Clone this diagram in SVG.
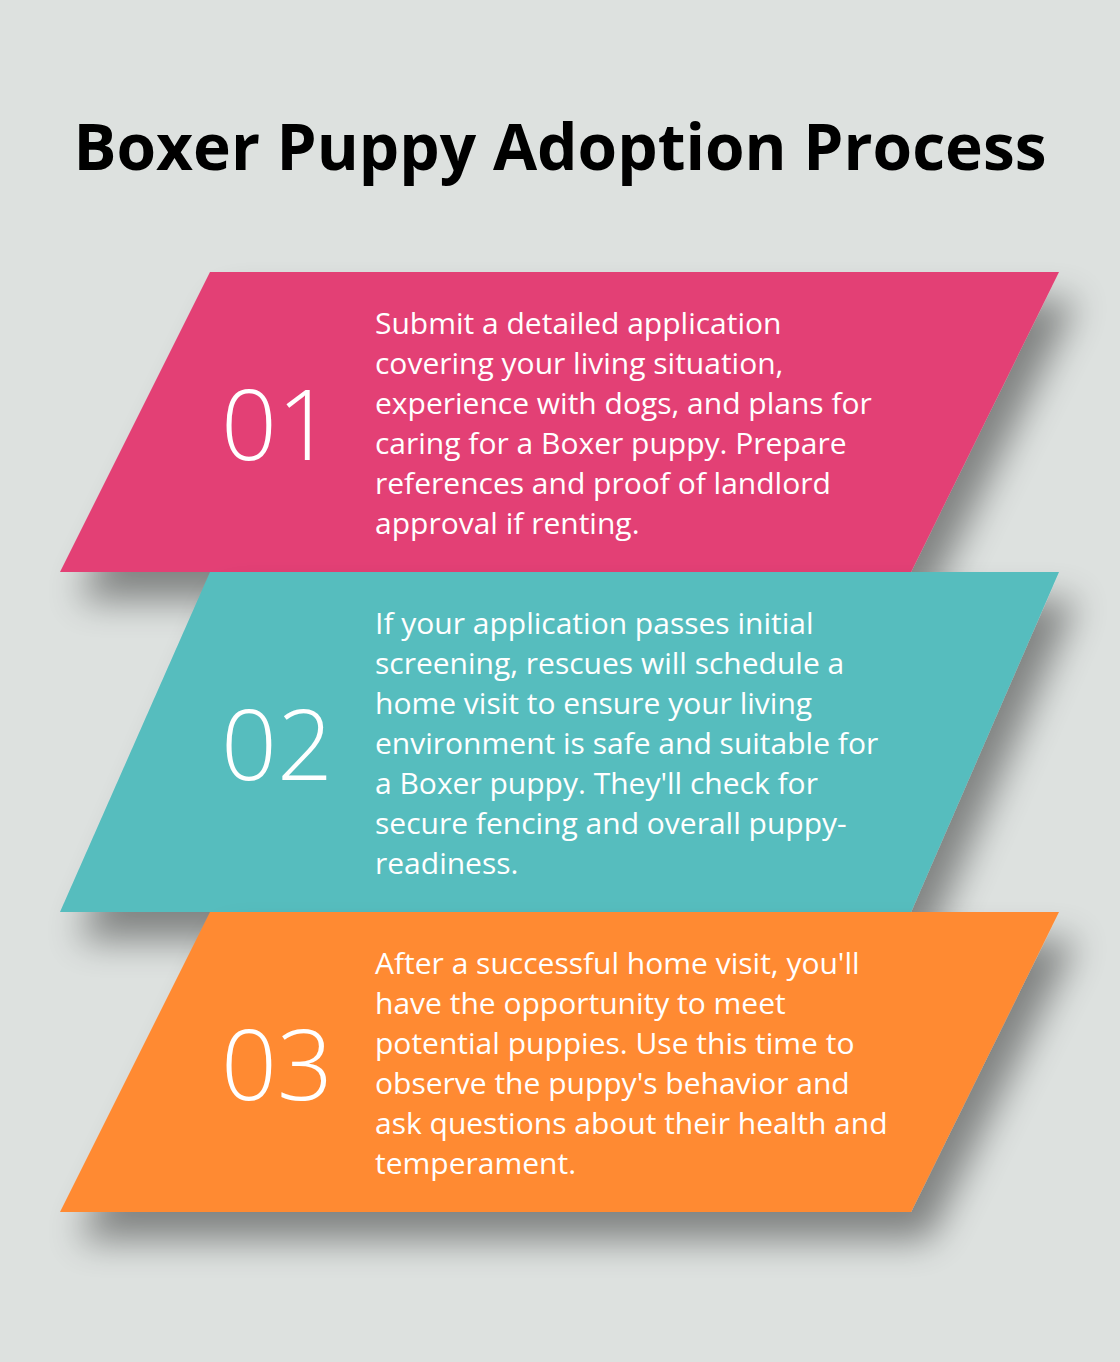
<svg xmlns="http://www.w3.org/2000/svg" width="1120" height="1362" viewBox="0 0 1120 1362">
<defs>
<filter id="sh" x="-10%" y="-20%" width="130%" height="170%">
<feGaussianBlur in="SourceAlpha" stdDeviation="18"/>
<feOffset dx="18" dy="28" result="b"/>
<feComponentTransfer><feFuncA type="linear" slope="0.42"/></feComponentTransfer>
<feMerge><feMergeNode/><feMergeNode in="SourceGraphic"/></feMerge>
</filter>
</defs>
<style>
.title{font-family:"Open Sans","Liberation Sans",sans-serif;font-weight:700;font-size:64px;fill:#000}
.num{font-family:"Open Sans","Liberation Sans",sans-serif;font-weight:300;font-size:98px;fill:#fff}
.body{font-family:"Open Sans","Liberation Sans",sans-serif;font-size:30px;fill:#fff}
</style>
<rect width="1120" height="1362" fill="#DDE1DF"/>
<text class="title" x="560" y="170" text-anchor="middle">Boxer Puppy Adoption Process</text>
<g id="step1">
<polygon points="210,272 1059,272 911,572 60,572" fill="#E34174" filter="url(#sh)"/>
<text class="num" x="221" y="460">01</text>
<text class="body" x="375"><tspan x="375" y="334">Submit a detailed application</tspan><tspan x="375" y="374">covering your living situation,</tspan><tspan x="375" y="414">experience with dogs, and plans for</tspan><tspan x="375" y="454">caring for a Boxer puppy. Prepare</tspan><tspan x="375" y="494">references and proof of landlord</tspan><tspan x="375" y="534">approval if renting.</tspan></text>
</g>
<g id="step2">
<polygon points="210,572 1059,572 911,912 60,912" fill="#56BDBE" filter="url(#sh)"/>
<text class="num" x="221" y="780">02</text>
<text class="body" x="375"><tspan x="375" y="634">If your application passes initial</tspan><tspan x="375" y="674">screening, rescues will schedule a</tspan><tspan x="375" y="714">home visit to ensure your living</tspan><tspan x="375" y="754">environment is safe and suitable for</tspan><tspan x="375" y="794">a Boxer puppy. They'll check for</tspan><tspan x="375" y="834">secure fencing and overall puppy-</tspan><tspan x="375" y="874">readiness.</tspan></text>
</g>
<g id="step3">
<polygon points="210,912 1059,912 911,1212 60,1212" fill="#FF8A33" filter="url(#sh)"/>
<text class="num" x="221" y="1100">03</text>
<text class="body" x="375"><tspan x="375" y="974">After a successful home visit, you'll</tspan><tspan x="375" y="1014">have the opportunity to meet</tspan><tspan x="375" y="1054">potential puppies. Use this time to</tspan><tspan x="375" y="1094">observe the puppy's behavior and</tspan><tspan x="375" y="1134">ask questions about their health and</tspan><tspan x="375" y="1174">temperament.</tspan></text>
</g>
<g id="connectors"/>
</svg>
